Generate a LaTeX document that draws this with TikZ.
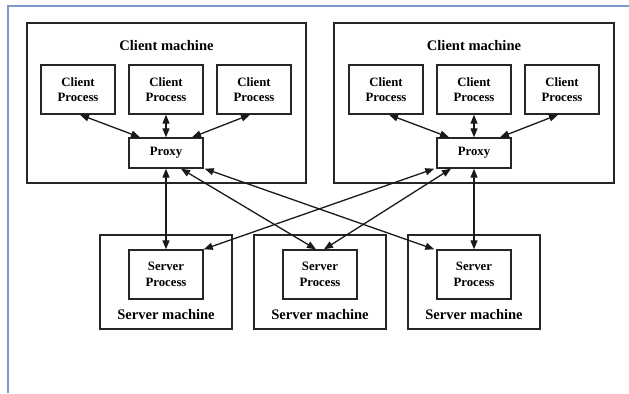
\documentclass[tikz,border=0pt]{standalone}
\usepackage{fontspec}
\setmainfont{Liberation Serif}
\usetikzlibrary{arrows.meta,calc}
\definecolor{framecol}{HTML}{7A9ACB}
\tikzset{
  machine/.style={draw=black!85, line width=1.4bp, inner sep=0pt},
  procbox/.style={draw=black!85, line width=1.4bp, inner sep=0pt, minimum width=74bp,
    align=center, font=\fontsize{12.8}{15.4}\selectfont\bfseries},
  proxybox/.style={draw=black!85, line width=1.4bp, inner sep=0pt, minimum width=74bp,
    minimum height=30bp, font=\fontsize{12.8}{15.4}\selectfont\bfseries},
  title/.style={anchor=base, inner sep=0pt, font=\fontsize{14.6}{17}\selectfont\bfseries},
  link/.style={line width=1.3bp, black!90, {Triangle[length=9bp,width=7bp]}-{Triangle[length=9bp,width=7bp]}}
}
\begin{document}
\begin{tikzpicture}[x=1bp,y=-1bp]
\useasboundingbox (0,0) rectangle (629,393);
\coordinate (f1) at (8,393);
\coordinate (f2) at (8,6);
\coordinate (f3) at (629,6);
\draw[framecol, line width=1.4bp] (f1) -- (f2) -- (f3);

% client machines
\node[machine, minimum width=279bp, minimum height=160bp] (lm) at (166.5,103) {};
\node[machine, minimum width=280bp, minimum height=160bp] (rm) at (474,103) {};
\node[title] (lmt) at (166.5,50) {Client machine};
\node[title] (rmt) at (474,50) {Client machine};

\node[procbox, minimum height=49bp] (lc1) at (78,89.5) {Client\\Process};
\node[procbox, minimum height=49bp] (lc2) at (166,89.5) {Client\\Process};
\node[procbox, minimum height=49bp] (lc3) at (254,89.5) {Client\\Process};
\node[procbox, minimum height=49bp] (rc1) at (386,89.5) {Client\\Process};
\node[procbox, minimum height=49bp] (rc2) at (474,89.5) {Client\\Process};
\node[procbox, minimum height=49bp] (rc3) at (562,89.5) {Client\\Process};

\node[proxybox] (lp) at (166,153) {Proxy};
\node[proxybox] (rp) at (474,153) {Proxy};

% server machines
\node[machine, minimum width=132bp, minimum height=94bp] (sm1) at (166,282) {};
\node[machine, minimum width=132bp, minimum height=94bp] (sm2) at (320,282) {};
\node[machine, minimum width=132bp, minimum height=94bp] (sm3) at (474,282) {};
\node[procbox, minimum height=49bp] (s1) at (166,274.5) {Server\\Process};
\node[procbox, minimum height=49bp] (s2) at (320,274.5) {Server\\Process};
\node[procbox, minimum height=49bp] (s3) at (474,274.5) {Server\\Process};
\node[title] (sm1t) at (166,319) {Server machine};
\node[title] (sm2t) at (320,319) {Server machine};
\node[title] (sm3t) at (474,319) {Server machine};

% client to proxy
\draw[link] ($(lc1.south)+(2,0)$) -- ($(lp.north)+(-26,0)$);
\draw[link] (lc2.south) -- (lp.north);
\draw[link] ($(lc3.south)+(-4,0)$) -- ($(lp.north)+(26,0)$);
\draw[link] ($(rc1.south)+(3,0)$) -- ($(rp.north)+(-25,0)$);
\draw[link] (rc2.south) -- (rp.north);
\draw[link] ($(rc3.south)+(-4,0)$) -- ($(rp.north)+(26,0)$);

% proxy to servers
\draw[link] (lp.south) -- (s1.north);
\draw[link] ($(lp.south)+(15,0)$) -- ($(s2.north)+(-4,0)$);
\draw[link] ($(lp.south east)+(1,0)$) -- ($(s3.north west)+(-2,0)$);
\draw[link] ($(rp.south west)+(-2,0)$) -- (s1.north east);
\draw[link] ($(rp.south)+(-23,0)$) -- ($(s2.north)+(4,0)$);
\draw[link] (rp.south) -- (s3.north);
\end{tikzpicture}
\end{document}
